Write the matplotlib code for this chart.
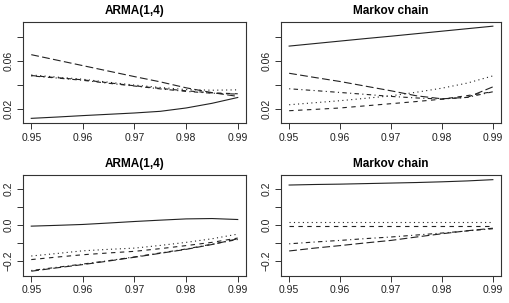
import matplotlib
matplotlib.use("Agg")
import matplotlib.pyplot as plt

plt.rcParams['font.family'] = ['Liberation Sans', 'DejaVu Sans']

x = [0.95, 0.955, 0.96, 0.965, 0.97, 0.975, 0.98, 0.985, 0.99]

# top left: ARMA(1,4)
tl_solid = [0.0119, 0.0130, 0.0142, 0.0153, 0.0164, 0.0178, 0.0206, 0.0245, 0.0294]
tl_long = [0.0653, 0.0607, 0.0561, 0.0515, 0.0469, 0.0425, 0.0375, 0.0335, 0.0303]
tl_short = [0.0478, 0.0460, 0.0442, 0.0417, 0.0392, 0.0370, 0.0350, 0.0333, 0.0325]
tl_dot = [0.0483, 0.0465, 0.0447, 0.0422, 0.0398, 0.0378, 0.0360, 0.0355, 0.0358]
tl_dotdash = [0.0475, 0.0457, 0.0438, 0.0413, 0.0390, 0.0366, 0.0345, 0.0330, 0.0322]

# top right: Markov chain
tr_solid = [0.0725, 0.0746, 0.0767, 0.0788, 0.0808, 0.0829, 0.0850, 0.0871, 0.0892]
tr_long = [0.0497, 0.0462, 0.0428, 0.0389, 0.0350, 0.0308, 0.0283, 0.0295, 0.0383]
tr_short = [0.0183, 0.0194, 0.0206, 0.0224, 0.0242, 0.0260, 0.0280, 0.0310, 0.0342]
tr_dot = [0.0233, 0.0250, 0.0267, 0.0287, 0.0308, 0.0338, 0.0372, 0.0415, 0.0475]
tr_dotdash = [0.0367, 0.0352, 0.0336, 0.0320, 0.0303, 0.0290, 0.0281, 0.0295, 0.0342]

# bottom left: ARMA(1,4)
bl_solid = [-0.0074, -0.003, 0.002, 0.010, 0.0185, 0.026, 0.033, 0.035, 0.0296]
bl_long = [-0.259, -0.240, -0.222, -0.202, -0.181, -0.159, -0.137, -0.110, -0.078]
bl_short = [-0.194, -0.180, -0.167, -0.157, -0.148, -0.133, -0.116, -0.098, -0.074]
bl_dot = [-0.174, -0.160, -0.145, -0.137, -0.130, -0.115, -0.098, -0.078, -0.052]
bl_dotdash = [-0.255, -0.237, -0.219, -0.200, -0.179, -0.157, -0.135, -0.108, -0.082]

# bottom right: Markov chain
br_solid = [0.222, 0.225, 0.227, 0.230, 0.233, 0.236, 0.240, 0.245, 0.252]
br_long = [-0.146, -0.130, -0.116, -0.101, -0.087, -0.068, -0.050, -0.033, -0.019]
br_short = [-0.004, -0.004, -0.004, -0.004, -0.004, -0.004, -0.004, -0.004, -0.004]
br_dot = [0.015, 0.015, 0.015, 0.015, 0.015, 0.015, 0.015, 0.015, 0.015]
br_dotdash = [-0.106, -0.096, -0.087, -0.077, -0.068, -0.057, -0.046, -0.034, -0.022]

titles = ["ARMA(1,4)", "Markov chain", "ARMA(1,4)", "Markov chain"]
xticks = [0.95, 0.96, 0.97, 0.98, 0.99]
top_yticks = [0.02, 0.04, 0.06, 0.08]
top_ylabels = ["0.02", "", "0.06", ""]
bot_yticks = [-0.2, -0.1, 0.0, 0.1, 0.2]
bot_ylabels = ["\u22120.2", "", "0.0", "", "0.2"]

panels = [
    (tl_solid, tl_long, tl_short, tl_dot, tl_dotdash),
    (tr_solid, tr_long, tr_short, tr_dot, tr_dotdash),
    (bl_solid, bl_long, bl_short, bl_dot, bl_dotdash),
    (br_solid, br_long, br_short, br_dot, br_dotdash),
]

# R-style line types: solid, longdash, dashed, dotted, dotdash
dash_styles = [None, (7, 3), (4, 4), (1, 3), (1, 3, 4, 3)]

positions = [
    [23 / 510, 1 - 123 / 303, 223 / 510, 101 / 303],
    [281 / 510, 1 - 123 / 303, 220 / 510, 101 / 303],
    [23 / 510, 1 - 275.7 / 303, 223 / 510, 100.7 / 303],
    [281 / 510, 1 - 275.7 / 303, 220 / 510, 100.7 / 303],
]

fig = plt.figure(figsize=(5.1, 3.03), dpi=100)
edge = '#333333'
for i, series in enumerate(panels):
    ax = fig.add_axes(positions[i])
    for ys, d in zip(series, dash_styles):
        if d is None:
            ax.plot(x, ys, color='#222222', lw=0.8)
        else:
            ax.plot(x, ys, color='#222222', lw=0.8, dashes=d)
    ax.set_xlim(0.9484, 0.9916)
    if i < 2:
        ax.set_ylim(0.008, 0.0927)
        ax.set_yticks(top_yticks)
        ax.set_yticklabels(top_ylabels, rotation=90, va='center')
    else:
        ax.set_ylim(-0.284, 0.278)
        ax.set_yticks(bot_yticks)
        ax.set_yticklabels(bot_ylabels, rotation=90, va='center')
    ax.set_xticks(xticks)
    ax.set_xticklabels(["%.2f" % t for t in xticks])
    ax.tick_params(direction='out', length=4, width=0.7, color=edge,
                   labelsize=7.5, labelcolor='#222222', pad=3)
    for s in ax.spines.values():
        s.set_color(edge)
        s.set_linewidth(0.8)
    ax.set_title(titles[i], fontsize=8.5, fontweight='bold', pad=6)

fig.savefig("out.png", dpi=100)
